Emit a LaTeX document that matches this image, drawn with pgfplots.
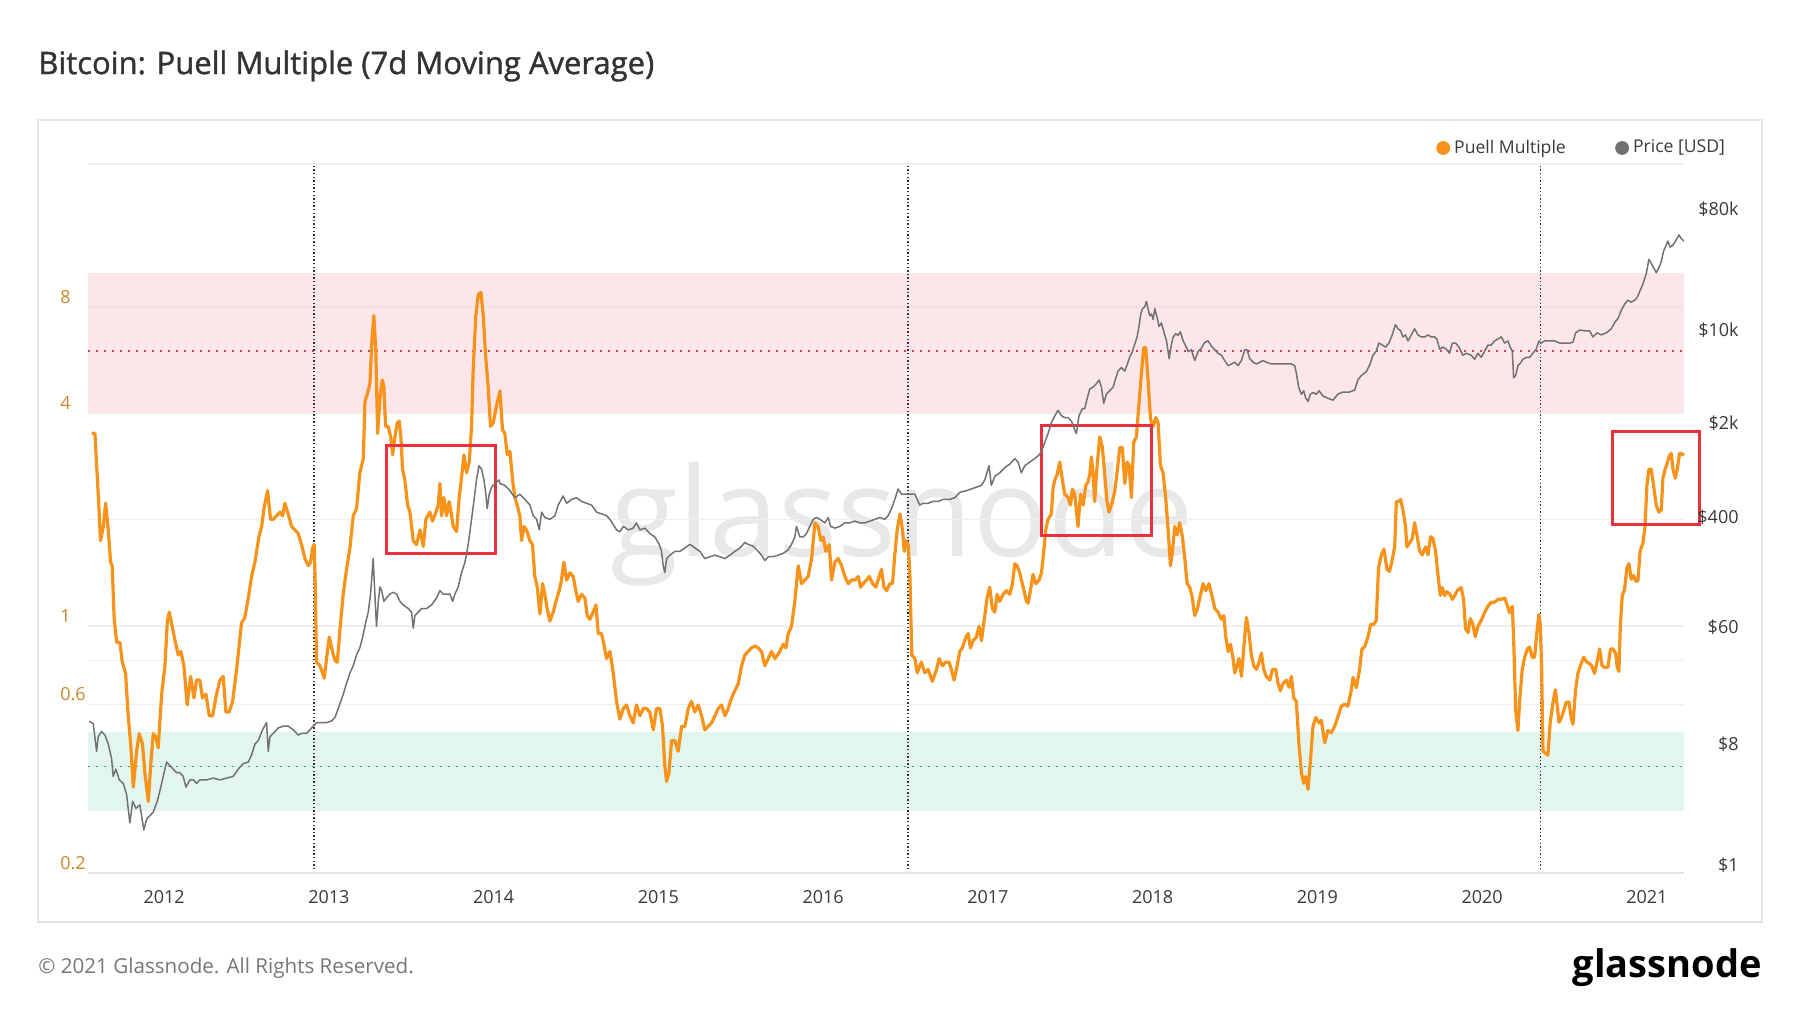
\documentclass[border=0pt]{standalone}
\usepackage{fontspec}
\setmainfont{Open Sans}
\newfontfamily\titlefont{Open Sans}[FakeBold=1.2]
\usepackage{pgfplots}
\pgfplotsset{compat=1.18}
\definecolor{puell}{HTML}{F7931A}
\definecolor{pricegray}{HTML}{727272}
\definecolor{pinkband}{HTML}{FBD3D7}
\definecolor{greenband}{HTML}{CDEFDF}
\definecolor{reddot}{HTML}{D9434B}
\definecolor{greendot}{HTML}{2BB37E}
\definecolor{boxred}{HTML}{E8303E}
\definecolor{ylab}{HTML}{CD872B}
\definecolor{labcol}{HTML}{3A3A3A}
\definecolor{framecol}{HTML}{E4E4E4}
\definecolor{gridcol}{HTML}{EFEFEF}
\definecolor{wmcol}{HTML}{E8E8E8}
\definecolor{titlecol}{HTML}{333333}
\definecolor{footcol}{HTML}{777777}

\pgfplotstableread{
x y
2011.560 3.51
2011.580 3.51
2011.600 2.36
2011.614 1.744
2011.631 1.913
2011.645 2.226
2011.661 1.87
2011.675 1.516
2011.685 1.481
2011.697 1.045
2011.712 0.898
2011.732 0.898
2011.746 0.790
2011.766 0.737
2011.782 0.557
2011.797 0.463
2011.813 0.350
2011.833 0.442
2011.849 0.496
2011.869 0.463
2011.883 0.384
2011.904 0.319
2011.920 0.412
2011.934 0.496
2011.950 0.485
2011.964 0.452
2011.985 0.641
2012.005 0.772
2012.019 1.021
2012.031 1.095
2012.045 1.021
2012.066 0.909
2012.086 0.828
2012.102 0.847
2012.120 0.772
2012.140 0.598
2012.161 0.720
2012.181 0.626
2012.197 0.703
2012.217 0.703
2012.233 0.626
2012.254 0.641
2012.274 0.557
2012.294 0.557
2012.318 0.641
2012.339 0.703
2012.359 0.720
2012.375 0.571
2012.395 0.571
2012.416 0.612
2012.440 0.754
2012.470 1.021
2012.490 1.057
2012.511 1.201
2012.531 1.381
2012.551 1.516
2012.575 1.785
2012.592 1.913
2012.606 2.150
2012.628 2.414
2012.646 2.004
2012.662 2.004
2012.683 2.052
2012.703 2.10
2012.719 2.05
2012.733 2.226
2012.753 2.075
2012.774 1.913
2012.794 1.87
2012.814 1.827
2012.834 1.70
2012.855 1.552
2012.875 1.481
2012.889 1.516
2012.901 1.664
2012.911 1.70
2012.917 1.318
2012.925 0.790
2012.946 0.772
2012.972 0.712
2012.986 0.809
2013.002 0.930
2013.022 0.847
2013.037 0.799
2013.051 0.790
2013.067 0.974
2013.087 1.229
2013.107 1.447
2013.128 1.664
2013.148 2.052
2013.168 2.15
2013.188 2.715
2013.209 2.98
2013.219 4.318
2013.233 4.524
2013.249 4.856
2013.261 6.424
2013.273 7.56
2013.285 5.99
2013.296 3.51
2013.310 4.42
2013.324 4.97
2013.334 4.74
2013.344 3.674
2013.360 3.674
2013.375 3.43
2013.387 3.05
2013.401 3.43
2013.415 3.76
2013.427 3.80
2013.437 3.43
2013.447 2.78
2013.461 2.59
2013.478 2.20
2013.492 2.10
2013.512 1.744
2013.532 1.70
2013.553 1.87
2013.573 1.68
2013.589 2.004
2013.613 2.10
2013.629 1.981
2013.650 2.10
2013.664 2.20
2013.674 2.53
2013.684 2.05
2013.698 2.31
2013.714 2.05
2013.730 2.25
2013.745 2.05
2013.755 1.913
2013.775 1.85
2013.791 2.31
2013.805 2.62
2013.820 3.05
2013.836 2.715
2013.852 2.91
2013.866 3.674
2013.876 5.33
2013.892 7.56
2013.907 8.69
2013.923 8.79
2013.937 7.56
2013.951 5.85
2013.967 4.74
2013.981 3.674
2013.998 3.76
2014.018 4.22
2014.034 4.524
2014.038 4.63
2014.054 3.59
2014.068 3.51
2014.083 3.05
2014.099 3.12
2014.115 2.59
2014.129 2.31
2014.143 2.20
2014.159 2.05
2014.170 1.744
2014.184 1.913
2014.200 1.87
2014.220 1.744
2014.236 1.70
2014.250 1.381
2014.265 1.288
2014.281 1.082
2014.297 1.318
2014.311 1.229
2014.325 1.121
2014.341 1.033
2014.362 1.095
2014.378 1.174
2014.398 1.259
2014.412 1.349
2014.426 1.516
2014.443 1.349
2014.463 1.414
2014.483 1.381
2014.499 1.259
2014.513 1.174
2014.534 1.229
2014.554 1.20
2014.568 1.07
2014.584 1.045
2014.604 1.095
2014.621 1.147
2014.635 0.952
2014.655 0.952
2014.669 0.888
2014.685 0.809
2014.706 0.847
2014.726 0.737
2014.746 0.612
2014.766 0.545
2014.787 0.584
2014.807 0.598
2014.827 0.557
2014.847 0.532
2014.867 0.598
2014.888 0.557
2014.908 0.584
2014.928 0.584
2014.948 0.571
2014.969 0.508
2014.989 0.584
2015.009 0.584
2015.025 0.520
2015.039 0.402
2015.050 0.363
2015.064 0.384
2015.080 0.474
2015.100 0.474
2015.120 0.442
2015.141 0.520
2015.161 0.520
2015.181 0.584
2015.201 0.612
2015.221 0.571
2015.242 0.598
2015.262 0.557
2015.282 0.508
2015.302 0.520
2015.323 0.532
2015.343 0.557
2015.363 0.584
2015.383 0.598
2015.404 0.557
2015.424 0.584
2015.444 0.626
2015.464 0.656
2015.485 0.687
2015.505 0.772
2015.525 0.828
2015.545 0.847
2015.565 0.867
2015.586 0.878
2015.606 0.867
2015.626 0.847
2015.646 0.772
2015.667 0.809
2015.687 0.847
2015.707 0.809
2015.723 0.828
2015.737 0.847
2015.758 0.888
2015.774 0.867
2015.788 0.952
2015.808 0.998
2015.828 1.174
2015.849 1.481
2015.869 1.318
2015.889 1.349
2015.909 1.381
2015.930 1.552
2015.950 1.958
2015.970 1.913
2015.986 1.744
2016.000 1.785
2016.016 1.626
2016.037 1.70
2016.051 1.349
2016.071 1.516
2016.091 1.552
2016.112 1.481
2016.132 1.381
2016.152 1.318
2016.172 1.349
2016.193 1.349
2016.213 1.381
2016.227 1.288
2016.243 1.318
2016.263 1.349
2016.280 1.381
2016.300 1.318
2016.320 1.288
2016.340 1.381
2016.354 1.447
2016.369 1.288
2016.385 1.259
2016.405 1.318
2016.421 1.318
2016.435 1.59
2016.449 1.87
2016.466 2.075
2016.482 1.87
2016.492 1.626
2016.502 1.744
2016.516 1.70
2016.526 1.414
2016.538 0.828
2016.557 0.809
2016.571 0.737
2016.587 0.772
2016.596 0.790
2016.617 0.737
2016.637 0.754
2016.663 0.697
2016.688 0.754
2016.704 0.809
2016.724 0.772
2016.744 0.790
2016.764 0.790
2016.778 0.754
2016.795 0.703
2016.809 0.754
2016.829 0.847
2016.845 0.867
2016.866 0.930
2016.880 0.952
2016.894 0.867
2016.910 0.909
2016.930 0.930
2016.946 0.998
2016.961 0.909
2016.981 1.07
2016.995 1.20
2017.011 1.288
2017.027 1.121
2017.042 1.095
2017.056 1.229
2017.072 1.174
2017.092 1.229
2017.112 1.259
2017.133 1.229
2017.149 1.318
2017.163 1.50
2017.177 1.481
2017.193 1.414
2017.214 1.288
2017.234 1.174
2017.244 1.16
2017.258 1.259
2017.274 1.40
2017.290 1.318
2017.311 1.349
2017.325 1.414
2017.339 1.626
2017.351 1.87
2017.365 2.004
2017.385 2.075
2017.396 2.47
2017.406 2.59
2017.420 2.68
2017.436 2.91
2017.452 2.59
2017.466 2.36
2017.487 2.31
2017.501 2.20
2017.513 2.44
2017.527 2.36
2017.547 1.913
2017.562 2.36
2017.578 2.20
2017.594 2.50
2017.608 2.56
2017.618 2.68
2017.628 3.01
2017.638 2.715
2017.648 2.25
2017.663 2.85
2017.679 3.43
2017.695 3.20
2017.709 2.68
2017.723 2.25
2017.735 2.10
2017.756 2.25
2017.770 2.41
2017.784 2.715
2017.800 3.20
2017.816 3.20
2017.831 2.53
2017.845 2.91
2017.857 2.85
2017.871 2.31
2017.885 3.31
2017.901 3.43
2017.918 4.318
2017.932 5.21
2017.946 6.13
2017.958 6.13
2017.972 4.97
2017.987 3.85
2018.003 3.674
2018.019 3.89
2018.033 3.76
2018.047 2.85
2018.063 2.715
2018.079 2.31
2018.094 1.87
2018.108 1.481
2018.120 1.626
2018.134 1.913
2018.148 1.81
2018.164 1.96
2018.181 1.785
2018.195 1.552
2018.209 1.318
2018.225 1.288
2018.241 1.20
2018.255 1.07
2018.272 1.121
2018.286 1.20
2018.306 1.318
2018.322 1.259
2018.342 1.318
2018.363 1.20
2018.377 1.121
2018.397 1.095
2018.417 1.045
2018.432 1.07
2018.444 0.930
2018.458 0.847
2018.472 0.888
2018.488 0.809
2018.498 0.737
2018.512 0.772
2018.524 0.809
2018.539 0.720
2018.553 0.867
2018.569 1.057
2018.585 0.952
2018.599 0.828
2018.613 0.772
2018.630 0.754
2018.646 0.790
2018.660 0.838
2018.674 0.754
2018.690 0.720
2018.711 0.703
2018.727 0.754
2018.747 0.754
2018.761 0.687
2018.775 0.656
2018.791 0.687
2018.812 0.703
2018.828 0.671
2018.842 0.720
2018.856 0.626
2018.872 0.612
2018.888 0.463
2018.903 0.384
2018.917 0.359
2018.929 0.375
2018.943 0.345
2018.957 0.412
2018.973 0.520
2018.990 0.551
2019.010 0.532
2019.024 0.541
2019.044 0.467
2019.064 0.506
2019.084 0.499
2019.104 0.519
2019.125 0.555
2019.145 0.593
2019.165 0.601
2019.185 0.593
2019.206 0.660
2019.216 0.715
2019.236 0.669
2019.256 0.754
2019.270 0.861
2019.286 0.872
2019.307 0.932
2019.323 1.010
2019.341 1.010
2019.357 1.037
2019.371 1.466
2019.388 1.59
2019.404 1.65
2019.422 1.447
2019.438 1.428
2019.454 1.54
2019.469 1.675
2019.479 2.25
2019.493 2.25
2019.505 2.28
2019.519 2.13
2019.535 1.91
2019.543 1.675
2019.560 1.72
2019.576 1.77
2019.590 1.96
2019.604 1.81
2019.620 1.63
2019.636 1.59
2019.657 1.675
2019.671 1.59
2019.687 1.79
2019.701 1.77
2019.717 1.63
2019.732 1.39
2019.746 1.22
2019.758 1.284
2019.772 1.22
2019.786 1.25
2019.802 1.234
2019.819 1.19
2019.833 1.22
2019.853 1.267
2019.873 1.284
2019.887 1.19
2019.899 0.984
2019.914 0.958
2019.928 1.05
2019.944 1.010
2019.958 0.932
2019.974 0.997
2019.994 1.037
2020.015 1.092
2020.035 1.138
2020.055 1.168
2020.075 1.168
2020.096 1.19
2020.116 1.19
2020.136 1.20
2020.150 1.153
2020.166 1.092
2020.183 1.138
2020.193 0.861
2020.203 0.578
2020.217 0.506
2020.227 0.609
2020.243 0.754
2020.258 0.816
2020.274 0.861
2020.288 0.872
2020.304 0.816
2020.318 0.816
2020.332 0.958
2020.344 1.077
2020.353 1.010
2020.361 0.754
2020.369 0.443
2020.383 0.437
2020.399 0.431
2020.413 0.534
2020.430 0.609
2020.444 0.660
2020.456 0.593
2020.466 0.534
2020.480 0.549
2020.496 0.578
2020.510 0.609
2020.527 0.609
2020.541 0.549
2020.551 0.527
2020.567 0.660
2020.581 0.734
2020.597 0.774
2020.616 0.816
2020.632 0.794
2020.648 0.784
2020.664 0.774
2020.682 0.734
2020.698 0.794
2020.713 0.861
2020.727 0.774
2020.743 0.764
2020.763 0.764
2020.779 0.861
2020.794 0.861
2020.810 0.838
2020.820 0.764
2020.830 0.744
2020.838 0.984
2020.850 1.22
2020.864 1.267
2020.879 1.466
2020.891 1.50
2020.905 1.357
2020.919 1.39
2020.931 1.34
2020.945 1.34
2020.959 1.63
2020.976 1.72
2020.988 1.91
2021.000 2.50
2021.012 2.78
2021.026 2.78
2021.040 2.50
2021.057 2.19
2021.073 2.10
2021.087 2.13
2021.097 2.62
2021.111 2.78
2021.123 2.89
2021.138 3.04
2021.148 3.08
2021.158 2.78
2021.172 2.62
2021.184 2.78
2021.198 3.08
2021.208 3.08
2021.225 3.04
}\puelltable

\pgfplotstableread{
x y
2011.546 12.98
2011.570 12.4
2011.590 7.72
2011.600 9.9
2011.620 10.85
2011.641 10.2
2011.661 8.73
2011.681 6.83
2011.691 5.02
2011.707 5.68
2011.728 4.72
2011.752 4.44
2011.772 3.69
2011.792 2.25
2011.809 3.26
2011.829 2.89
2011.853 3.07
2011.877 1.99
2011.894 2.40
2011.914 2.55
2011.934 2.71
2011.958 3.26
2011.975 3.93
2011.995 5.02
2012.015 6.42
2012.035 6.04
2012.055 5.68
2012.076 5.34
2012.096 5.34
2012.116 5.02
2012.132 4.17
2012.157 4.72
2012.177 4.72
2012.197 4.44
2012.217 4.72
2012.258 4.72
2012.298 4.87
2012.339 4.72
2012.379 4.87
2012.420 5.02
2012.450 5.68
2012.480 6.24
2012.511 6.42
2012.531 7.26
2012.551 8.73
2012.571 9.28
2012.598 11.19
2012.622 12.65
2012.632 7.72
2012.642 9.9
2012.662 10.5
2012.693 11.54
2012.723 11.9
2012.753 11.9
2012.784 11.19
2012.814 10.2
2012.834 10.5
2012.865 10.5
2012.885 11.19
2012.905 11.9
2012.925 12.65
2012.956 12.65
2012.986 12.65
2013.016 13.0
2013.037 13.85
2013.057 16.1
2013.087 20.6
2013.107 24.8
2013.128 29.8
2013.148 33.8
2013.168 40.6
2013.188 45.9
2013.205 55.2
2013.223 70.5
2013.239 84.8
2013.253 115.6
2013.261 157
2013.269 213
2013.277 130.7
2013.289 66.3
2013.300 102
2013.310 130.7
2013.320 122.9
2013.334 102
2013.350 108.5
2013.370 115.6
2013.391 119.2
2013.411 115.6
2013.431 102
2013.451 95.9
2013.482 90.2
2013.502 84.8
2013.512 64.3
2013.522 79.7
2013.542 84.8
2013.563 90.2
2013.593 90.2
2013.623 95.9
2013.654 108.5
2013.674 122.9
2013.694 115.6
2013.735 115.6
2013.751 102
2013.765 115.6
2013.785 130.7
2013.805 167
2013.826 200
2013.846 273
2013.866 419
2013.880 570
2013.896 825
2013.911 1054
2013.927 991
2013.941 825
2013.953 645
2013.961 504
2013.973 645
2013.988 729
2014.008 776
2014.034 825
2014.038 776
2014.068 752
2014.099 686
2014.129 607
2014.159 645
2014.190 590
2014.220 536
2014.240 446
2014.261 419
2014.277 349
2014.291 474
2014.311 432
2014.342 419
2014.372 446
2014.392 536
2014.422 626
2014.443 552
2014.473 590
2014.503 607
2014.534 570
2014.564 552
2014.594 536
2014.625 474
2014.655 460
2014.685 446
2014.706 419
2014.726 383
2014.746 349
2014.766 338
2014.787 371
2014.817 349
2014.847 360
2014.867 394
2014.888 349
2014.918 360
2014.948 328
2014.979 309
2015.005 272
2015.019 241
2015.029 189
2015.039 168
2015.050 213
2015.070 226
2015.100 241
2015.130 241
2015.161 256
2015.191 272
2015.221 256
2015.252 241
2015.282 213
2015.312 220
2015.343 226
2015.373 220
2015.404 213
2015.434 226
2015.464 241
2015.495 256
2015.525 281
2015.545 272
2015.575 264
2015.606 241
2015.626 226
2015.646 206
2015.667 220
2015.697 220
2015.727 226
2015.758 233
2015.788 248
2015.808 272
2015.828 309
2015.838 371
2015.859 309
2015.879 309
2015.899 328
2015.919 371
2015.940 419
2015.960 432
2015.980 419
2016.010 394
2016.031 432
2016.045 371
2016.071 360
2016.101 371
2016.132 394
2016.162 394
2016.192 406
2016.223 394
2016.253 394
2016.283 406
2016.314 419
2016.344 432
2016.374 419
2016.395 446
2016.415 504
2016.435 590
2016.455 707
2016.476 645
2016.496 645
2016.526 645
2016.557 645
2016.586 536
2016.607 552
2016.637 552
2016.667 570
2016.698 570
2016.728 590
2016.768 590
2016.799 607
2016.829 666
2016.870 686
2016.900 707
2016.930 729
2016.961 752
2016.981 825
2017.007 1054
2017.021 752
2017.042 877
2017.072 933
2017.102 1020
2017.133 1085
2017.163 1192
2017.183 1121
2017.203 933
2017.224 1054
2017.254 1121
2017.284 1192
2017.311 1268
2017.325 1348
2017.345 1572
2017.365 1833
2017.385 2204
2017.406 2493
2017.426 2733
2017.446 2493
2017.466 2417
2017.487 2417
2017.507 2272
2017.527 1949
2017.537 1833
2017.553 2493
2017.574 2818
2017.588 2818
2017.598 3187
2017.618 3952
2017.638 4075
2017.659 4333
2017.675 4608
2017.689 4075
2017.703 3090
2017.719 3604
2017.739 3832
2017.760 4075
2017.776 4751
2017.790 5372
2017.810 5714
2017.830 5372
2017.847 6073
2017.861 6867
2017.877 7530
2017.891 8516
2017.905 9630
2017.917 11584
2017.928 14362
2017.938 15750
2017.952 16243
2017.962 17811
2017.972 15750
2017.982 13930
2017.993 14362
2018.003 13100
2018.013 15750
2018.027 13509
2018.039 11584
2018.053 12320
2018.068 10560
2018.084 9055
2018.100 6659
2018.114 8516
2018.124 9630
2018.140 10240
2018.154 9930
2018.168 10560
2018.185 9055
2018.201 8258
2018.217 7530
2018.235 7760
2018.255 6450
2018.276 7530
2018.296 8000
2018.316 8800
2018.336 9055
2018.357 8258
2018.377 7760
2018.397 7300
2018.417 7080
2018.437 6450
2018.458 5900
2018.478 6073
2018.498 6260
2018.518 5900
2018.539 6450
2018.559 7760
2018.573 7760
2018.589 6659
2018.610 6260
2018.630 6073
2018.650 6260
2018.670 6450
2018.690 6260
2018.721 6073
2018.751 6073
2018.781 6073
2018.812 6073
2018.842 6073
2018.862 5900
2018.872 5210
2018.886 4075
2018.903 3604
2018.917 3832
2018.929 3390
2018.943 3187
2018.957 3604
2018.973 3720
2018.993 3604
2019.010 3832
2019.034 3493
2019.064 3370
2019.094 3256
2019.125 3622
2019.155 3750
2019.195 3750
2019.226 3880
2019.246 4630
2019.266 4967
2019.297 5327
2019.321 6130
2019.337 7055
2019.357 7568
2019.373 8710
2019.394 8410
2019.414 8120
2019.434 8710
2019.454 10020
2019.473 11950
2019.489 11140
2019.505 10760
2019.519 9680
2019.535 10020
2019.550 9030
2019.570 10020
2019.590 11140
2019.610 10020
2019.630 9680
2019.651 9680
2019.671 10020
2019.691 9680
2019.711 9680
2019.725 9340
2019.742 7840
2019.762 8120
2019.782 7840
2019.802 7310
2019.819 8710
2019.839 8710
2019.859 8120
2019.883 7055
2019.904 7310
2019.934 7055
2019.954 6580
2019.974 7310
2019.994 6810
2020.015 7568
2020.035 8410
2020.055 8410
2020.075 9030
2020.096 9340
2020.116 9680
2020.136 8710
2020.156 9030
2020.170 8120
2020.183 7568
2020.191 4794
2020.203 4967
2020.217 5925
2020.231 6130
2020.247 6580
2020.268 6810
2020.288 6810
2020.308 7310
2020.328 7840
2020.344 9030
2020.359 8710
2020.379 9030
2020.409 9030
2020.440 9030
2020.470 8710
2020.500 8710
2020.531 8710
2020.551 8830
2020.567 10380
2020.591 10890
2020.622 10760
2020.652 10760
2020.672 9680
2020.698 10380
2020.723 10020
2020.753 10380
2020.784 11140
2020.804 12380
2020.824 13280
2020.844 15290
2020.864 16980
2020.884 18220
2020.905 17590
2020.925 18220
2020.939 18900
2020.955 20970
2020.976 24130
2020.996 28760
2021.012 36790
2021.026 34300
2021.040 31950
2021.057 29250
2021.073 31950
2021.087 35510
2021.101 42330
2021.117 47040
2021.127 50460
2021.141 45400
2021.158 47040
2021.174 50460
2021.194 56060
2021.208 52600
2021.225 50460
}\pricetable

\begin{document}
\begin{tikzpicture}[x=1pt,y=1pt]
\path[use as bounding box] (0,0) rectangle (900,506.5);
\fill[white] (0,0) rectangle (900,506.5);
\draw[framecol, line width=0.9pt] (19,446.5) rectangle (881,45.5);
\node[anchor=west, inner sep=0pt, font=\titlefont\fontsize{15.5}{18}\selectfont, text=titlecol] at (19,473.5) {Bitcoin: Puell Multiple (7d Moving Average)};
\node[anchor=west, inner sep=0pt, font=\fontsize{10.3}{12}\selectfont, text=footcol] at (19,22.5) {© 2021 Glassnode. All Rights Reserved.};
\node[anchor=base east, inner sep=0pt, font=\fontsize{19}{22}\selectfont\bfseries] at (881,18) {glassnode};
\node[anchor=base west, inner sep=0pt, font=\fontsize{62}{70}\selectfont, text=wmcol] at (305,228) {glassnode};

\begin{axis}[
  at={(44pt,70pt)}, anchor=south west,
  width=798pt, height=354.5pt, scale only axis,
  xmin=2011.538, xmax=2021.225,
  ymode=log, ymin=0.2, ymax=20.3,
  axis x line*=bottom, axis y line*=left,
  x axis line style={draw=framecol, line width=1pt},
  y axis line style={draw=none},
  xtick={2012,2013,2014,2015,2016,2017,2018,2019,2020,2021},
  xticklabels={2012,2013,2014,2015,2016,2017,2018,2019,2020,2021},
  xtick style={draw=none},
  xticklabel style={font=\fontsize{9}{11}\selectfont, text=labcol, inner sep=0pt, anchor=center, yshift=-12pt},
  ytick={0.2,0.6,1,4,8},
  yticklabels={0.2,0.6,1,4,8},
  ytick style={draw=none},
  yticklabel style={font=\fontsize{9}{11}\selectfont, text=ylab, anchor=west, inner sep=0pt, xshift=-14pt, yshift=5pt},
  extra y ticks={0.4,0.8,2,20.3},
  extra y tick labels={},
  extra y tick style={ymajorgrids=true, ytick style={draw=none}},
  ymajorgrids=true,
  grid style={draw=gridcol, line width=0.7pt},
  clip=false,
  legend columns=2,
  legend cell align=left,
  legend style={draw=none, fill=none, at={(axis description cs:1.0322,1.0226)}, anchor=east,
    font=\fontsize{8.8}{10}\selectfont, text=labcol,
    /tikz/every even column/.append style={column sep=22.7pt}},
]
\addlegendimage{legend image code/.code={\fill[puell] (0pt,0pt) circle (3.25pt);}}
\addlegendentry{Puell Multiple}
\addlegendimage{legend image code/.code={\fill[pricegray] (0pt,0pt) circle (3.25pt);}}
\addlegendentry{Price [USD]}
% zones
\addplot[forget plot, draw=none, fill=pinkband, fill opacity=0.55] coordinates {(2011.538,4) (2021.225,4) (2021.225,10) (2011.538,10)} -- cycle;
\addplot[forget plot, draw=none, fill=greenband, fill opacity=0.55] coordinates {(2011.538,0.3) (2021.225,0.3) (2021.225,0.5) (2011.538,0.5)} -- cycle;
\addplot[forget plot, reddot, line width=0.8pt, dash pattern=on 0.8pt off 3.2pt] coordinates {(2011.538,6) (2021.225,6)};
\addplot[forget plot, greendot, line width=0.8pt, dash pattern=on 0.8pt off 3.2pt] coordinates {(2011.538,0.4) (2021.225,0.4)};
% halvings
\addplot[forget plot, black!80, line width=0.7pt, dash pattern=on 0.7pt off 1.1pt] coordinates {(2012.910,0.205) (2012.910,20.3)};
\addplot[forget plot, black!80, line width=0.7pt, dash pattern=on 0.7pt off 1.1pt] coordinates {(2016.515,0.205) (2016.515,20.3)};
\addplot[forget plot, black!80, line width=0.7pt, dash pattern=on 0.7pt off 1.1pt] coordinates {(2020.355,0.205) (2020.355,20.3)};
% puell multiple
\addplot[forget plot, puell, line width=1.6pt, line join=round] table[x=x, y=y] {\puelltable};
% highlight boxes
\addplot[forget plot, boxred, line width=1.4pt] coordinates {(2013.350,1.607) (2014.013,1.607) (2014.013,3.25) (2013.350,3.25)} -- cycle;
\addplot[forget plot, boxred, line width=1.4pt] coordinates {(2017.325,1.805) (2017.992,1.805) (2017.992,3.69) (2017.325,3.69)} -- cycle;
\addplot[forget plot, boxred, line width=1.4pt] coordinates {(2020.789,1.938) (2021.319,1.938) (2021.319,3.55) (2020.789,3.55)} -- cycle;
\end{axis}

\begin{axis}[
  at={(44pt,70pt)}, anchor=south west,
  width=798pt, height=354.5pt, scale only axis,
  xmin=2011.538, xmax=2021.225,
  ymode=log, ymin=0.95, ymax=1.9e5,
  axis x line=none, axis y line*=right,
  y axis line style={draw=none},
  ytick={1,8,60,400,2000,10000,80000},
  yticklabels={\$1,\$8,\$60,\$400,\$2k,\$10k,\$80k},
  ytick style={draw=none},
  yticklabel style={font=\fontsize{9}{11}\selectfont, text=labcol, anchor=east, inner sep=0pt, xshift=27.5pt, yshift=2.5pt},
]
\addplot[pricegray, line width=0.75pt, line join=round] table[x=x, y=y] {\pricetable};
\end{axis}
\end{tikzpicture}
\end{document}
